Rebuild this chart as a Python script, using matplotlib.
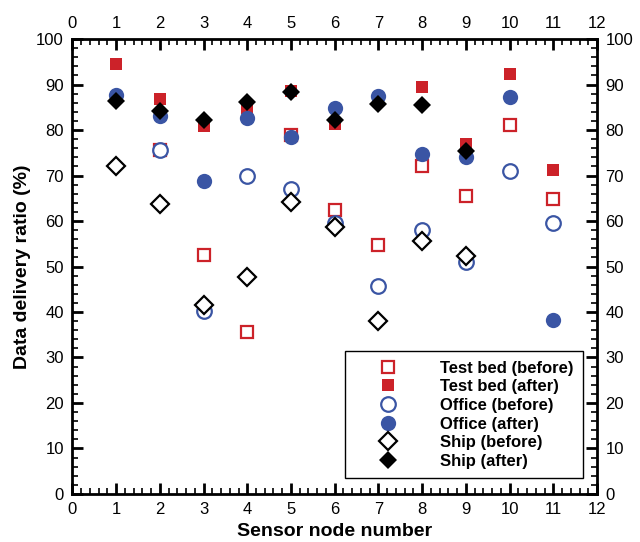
import numpy as np
import matplotlib.pyplot as plt
from matplotlib.ticker import MultipleLocator

plt.rcParams['font.family'] = ['Liberation Sans', 'DejaVu Sans']

nodes = [1, 2, 3, 4, 5, 6, 7, 8, 9, 10, 11]
nan = np.nan

# data delivery ratio (%) per sensor node
testbed_before = [nan, 75.6, 52.6, 35.6, 78.9, 62.5, 54.7, 72.0, 65.5, 81.2, 64.8]
testbed_after = [94.6, 86.8, 80.8, 84.9, 88.5, 81.3, nan, 89.5, 77.0, 92.4, 71.2]
office_before = [nan, 75.6, 40.2, 69.8, 67.1, 59.6, 45.7, 58.0, 50.9, 71.0, 59.6]
office_after = [87.8, 83.0, 68.7, 82.7, 78.5, 84.9, 87.5, 74.8, 74.1, 87.3, 38.3]
ship_before = [72.1, 63.8, 41.6, 47.7, 64.1, 58.7, 38.0, 55.6, 52.3, nan, nan]
ship_after = [86.4, 84.2, 82.2, 86.2, 88.3, 82.2, 85.8, 85.5, 75.4, nan, nan]

red = '#cc2229'
blue = '#3a55a4'

fig = plt.figure(figsize=(6.4, 5.42), dpi=100)
ax = fig.add_axes([0.113, 0.0886, 0.82, 0.8394])

ax.plot(nodes, testbed_before, 's', ls='none', ms=9, mfc='white', mec=red, mew=1.6,
        label='Test bed (before)')
ax.plot(nodes, testbed_after, 's', ls='none', ms=9, mfc=red, mec=red, mew=0,
        label='Test bed (after)')
ax.plot(nodes, office_before, 'o', ls='none', ms=10.5, mfc='white', mec=blue, mew=1.6,
        label='Office (before)')
ax.plot(nodes, office_after, 'o', ls='none', ms=11, mfc=blue, mec=blue, mew=0,
        label='Office (after)')
ax.plot(nodes, ship_before, 'D', ls='none', ms=9, mfc='white', mec='black', mew=1.6,
        label='Ship (before)')
ax.plot(nodes, ship_after, 'D', ls='none', ms=9.5, mfc='black', mec='black', mew=0,
        label='Ship (after)')

ax.set_xlim(0, 12)
ax.set_ylim(0, 100)
ax.xaxis.set_major_locator(MultipleLocator(1))
ax.xaxis.set_minor_locator(MultipleLocator(0.2))
ax.yaxis.set_major_locator(MultipleLocator(10))
ax.yaxis.set_minor_locator(MultipleLocator(2))
ax.tick_params(which='both', direction='in', top=True, right=True,
               labeltop=True, labelright=True, labelsize=12, pad=6)
ax.tick_params(which='major', length=8, width=2)
ax.tick_params(which='minor', length=4, width=1.2)
for s in ax.spines.values():
    s.set_linewidth(2)

ax.set_xlabel('Sensor node number', fontsize=14, fontweight='bold', labelpad=4)
ax.set_ylabel('Data delivery ratio (%)', fontsize=14, fontweight='bold', labelpad=4)

leg = ax.legend(loc='lower right', bbox_to_anchor=(0.973, 0.035), borderaxespad=0,
                fancybox=False, edgecolor='black', framealpha=1,
                prop={'weight': 'bold', 'size': 12}, handletextpad=1.15,
                labelspacing=0.22, borderpad=0.55, handlelength=4)
leg.get_frame().set_linewidth(1)

fig.savefig('out.png', dpi=100)
